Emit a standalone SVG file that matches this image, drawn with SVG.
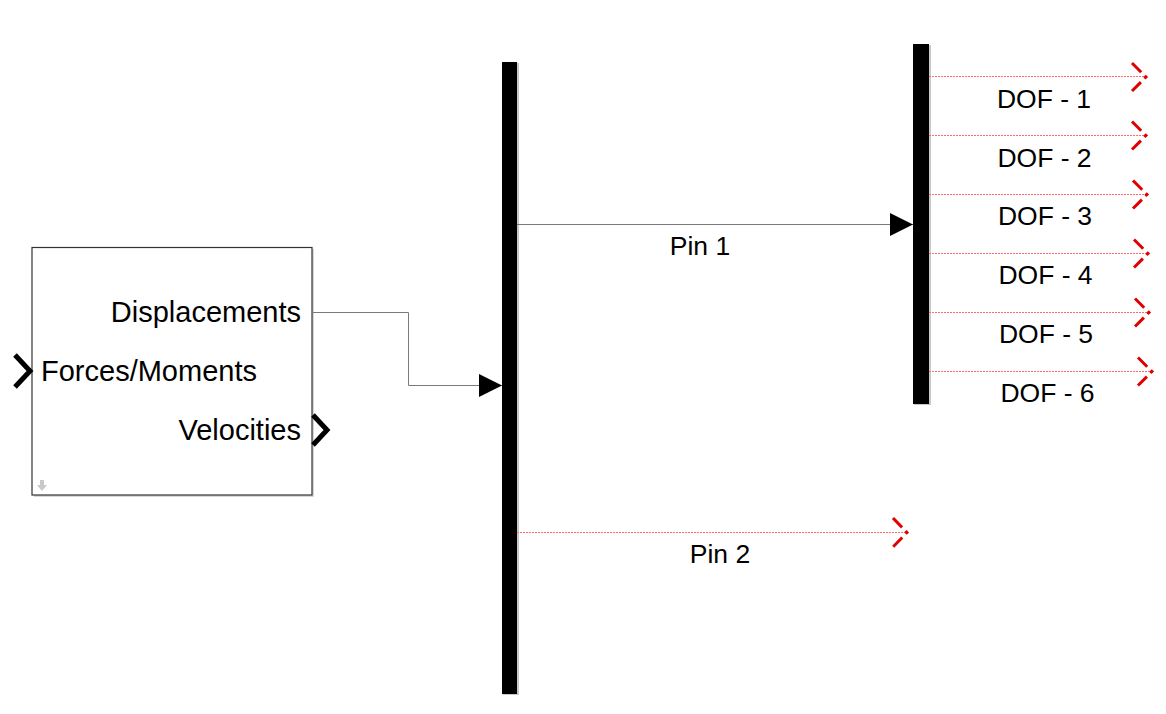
<svg xmlns="http://www.w3.org/2000/svg" width="1166" height="714" viewBox="0 0 1166 714">
<defs>
<style>
.lbl{font-family:"Liberation Sans",Arial,sans-serif;font-size:26.5px;fill:#000}
.blbl{font-family:"Liberation Sans",Arial,sans-serif;font-size:29px;fill:#000}
.bar{fill:#000}
.barsh{fill:#c8c8c8}
.sig{stroke:#7a7a7a;stroke-width:1;fill:none}
.unc{stroke:#ff6a6a;stroke-width:1;stroke-dasharray:2 1;fill:none}
.chev{stroke:#e00000;stroke-width:3;fill:none;stroke-dasharray:13 5 4 5 13}
.port{stroke:#000;stroke-width:5;fill:none;stroke-linejoin:miter}
</style>
<marker id="arr" markerWidth="23" markerHeight="23" refX="23" refY="11.5" orient="auto" markerUnits="userSpaceOnUse">
<path d="M0,0 L23,11.5 L0,23 Z" fill="#000"/>
</marker>
</defs>
<rect width="1166" height="714" fill="#fff"/>

<g id="block">
<rect x="34" y="249" width="280" height="248" fill="#d8d8d8"/>
<rect x="32" y="247.5" width="280" height="247.5" fill="#fff" stroke="#333" stroke-width="1.2"/>
<text class="blbl" x="301" y="322" text-anchor="end">Displacements</text>
<text class="blbl" x="41" y="381">Forces/Moments</text>
<text class="blbl" x="301" y="440" text-anchor="end">Velocities</text>
<path class="port" d="M15,355 L30,371 L15,387"/>
<path class="port" d="M313,415 L327,430 L313,445"/>
<path d="M40,480 L44,480 L44,485 L47,485 L42,491 L37,485 L40,485 Z" fill="#c8c8c8"/>
</g>

<g id="demux1">
<rect class="barsh" x="503" y="63" width="16" height="632"/>
<rect class="bar" x="502" y="62" width="15" height="632"/>
</g>

<g id="demux2">
<rect class="barsh" x="914" y="45" width="17" height="360"/>
<rect class="bar" x="913" y="44" width="16" height="360"/>
</g>

<g id="connectors">
<path class="sig" d="M312,312.5 H408.5 V385.5 H502" marker-end="url(#arr)"/>
<path class="sig" d="M517,224.5 H913" marker-end="url(#arr)"/>
<path class="unc" d="M517,532.5 H906"/>
<path class="chev" d="M893,518 L907,532.5 L893,547"/>
<path class="unc" d="M929,76.5 H1146"/>
<path class="chev" d="M1132,63 L1146,77 L1132,91"/>
<path class="unc" d="M929,135.5 H1146"/>
<path class="chev" d="M1132,121.5 L1146,135.5 L1132,149.5"/>
<path class="unc" d="M929,194.5 H1147"/>
<path class="chev" d="M1133,180.5 L1147,194.5 L1133,208.5"/>
<path class="unc" d="M929,253.5 H1148"/>
<path class="chev" d="M1134,239.5 L1148,253.5 L1134,267.5"/>
<path class="unc" d="M929,312.5 H1149"/>
<path class="chev" d="M1135,298.5 L1149,312.5 L1135,326.5"/>
<path class="unc" d="M929,371.5 H1152"/>
<path class="chev" d="M1138,357.5 L1152,371.5 L1138,385.5"/>
</g>

<g id="labels">
<text class="lbl" x="700" y="255" text-anchor="middle">Pin 1</text>
<text class="lbl" x="720" y="563" text-anchor="middle">Pin 2</text>
<text class="lbl" x="1044" y="108" text-anchor="middle">DOF - 1</text>
<text class="lbl" x="1044.5" y="167" text-anchor="middle">DOF - 2</text>
<text class="lbl" x="1045" y="225" text-anchor="middle">DOF - 3</text>
<text class="lbl" x="1045.5" y="284" text-anchor="middle">DOF - 4</text>
<text class="lbl" x="1046" y="343" text-anchor="middle">DOF - 5</text>
<text class="lbl" x="1047.5" y="402" text-anchor="middle">DOF - 6</text>
</g>
</svg>
